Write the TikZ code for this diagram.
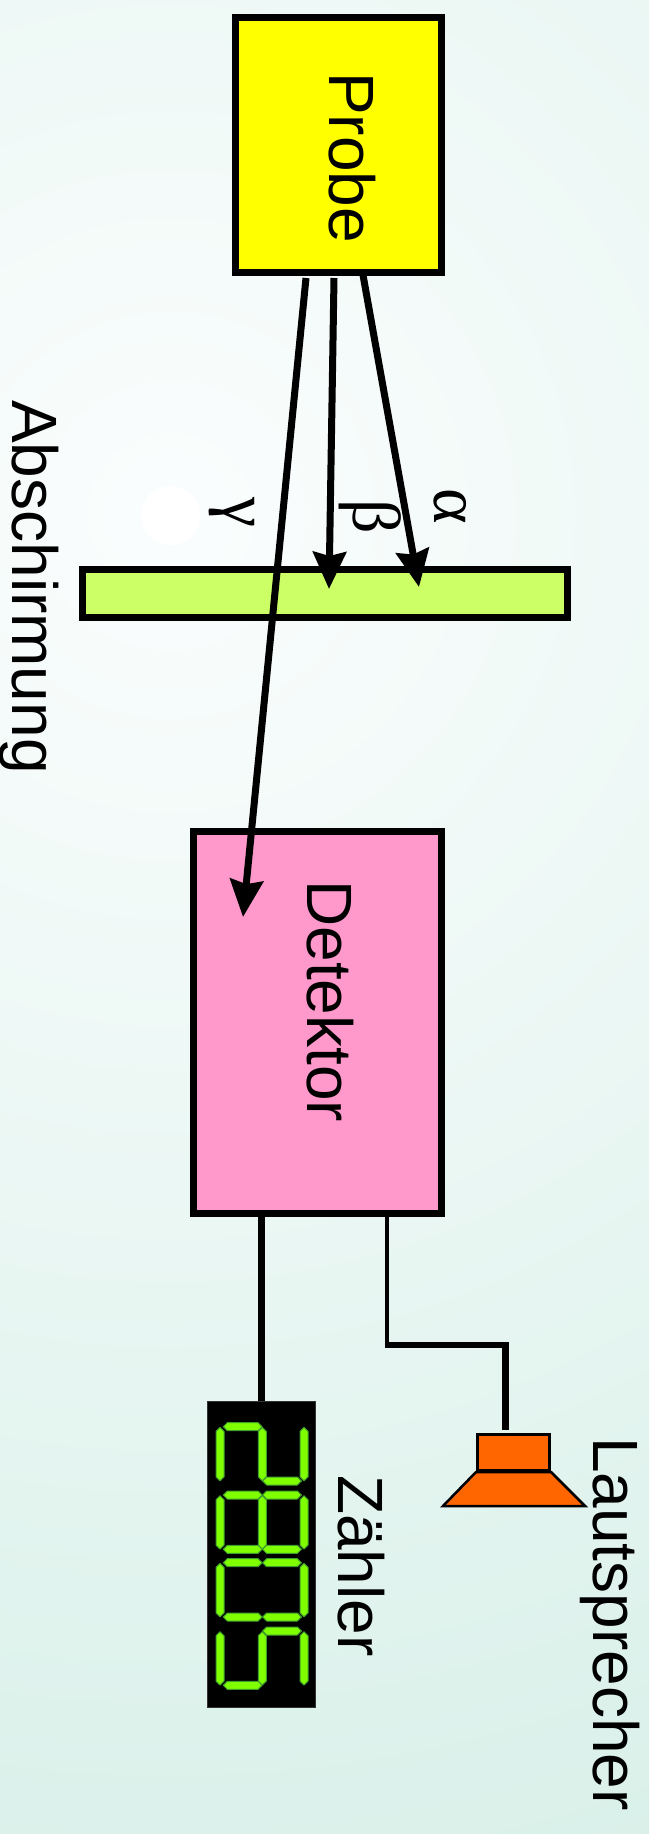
\documentclass[tikz,border=0pt]{standalone}
\usepackage{fontspec}
\usepackage{xcolor}
\usepackage{tikz}
\usetikzlibrary{arrows.meta,calc}
\setmainfont{Liberation Sans}
\newfontfamily\greekfont{Liberation Serif}
\definecolor{probefill}{HTML}{FFFF00}
\definecolor{shieldfill}{HTML}{CCFF66}
\definecolor{detfill}{HTML}{FF99CC}
\definecolor{spkfill}{HTML}{FF6600}
\definecolor{seggreen}{HTML}{80FF00}
\definecolor{segedge}{HTML}{3E9E2E}
\definecolor{bgmid}{HTML}{FAFDFD}
\definecolor{bgout}{HTML}{D9F0E9}
\pgfdeclareradialshading{bgshade}{\pgfpoint{0bp}{0bp}}{
  color(0bp)=(white); color(0.51bp)=(white); color(0.52bp)=(bgmid); color(25bp)=(bgout); color(50bp)=(bgout)}
\tikzset{
  box/.style={draw=black, line width=7pt, inner sep=0pt, outer sep=0pt},
  ray/.style={draw=black, line width=7pt, -{Stealth[length=37pt,width=33pt,inset=4pt]}},
  lab/.style={text=black, font=\fontsize{64}{70}\selectfont, rotate=-90, anchor=base west, inner sep=0pt},
  labg/.style={text=black, font=\greekfont\fontsize{68}{76}\selectfont, rotate=-90, anchor=base west, inner sep=0pt},
  seg/.style={fill=seggreen, draw=segedge, line width=1pt, line join=round},
}
\newcommand{\segv}[2]{\draw[seg] (#1,#2) ++(0,0.7) -- ++(4,4) -- ++(0,45.4) -- ++(-4,4) -- ++(-4,-4) -- ++(0,-45.4) -- cycle;}
\newcommand{\segh}[2]{\draw[seg] (#1,#2) -- ++(4,-4) -- ++(30.8,0) -- ++(4,4) -- ++(-4,4) -- ++(-30.8,0) -- cycle;}

\begin{document}
\begin{tikzpicture}[x=1pt,y=-1pt]
  \useasboundingbox (0,0) rectangle (649,1834);
  \begin{scope}
    \clip (0,0) rectangle (649,1834);
    \shade[shading=bgshade] (170,515) circle (1420pt);
  \end{scope}
  % boxes
  \node[box,fill=probefill,minimum width=206pt,minimum height=255pt] (probe) at (338.5,144.5) {};
  \node[box,fill=shieldfill,minimum width=485pt,minimum height=48pt] (shield) at (324.5,593) {};
  \node[box,fill=detfill,minimum width=248pt,minimum height=382pt] (detektor) at (317,1022) {};
  \node[draw=black!80,fill=black,line width=1pt,inner sep=0pt,minimum width=108pt,minimum height=306pt] (counter) at (261.5,1554.5) {};
  \node[draw=black,fill=spkfill,line width=3pt,inner sep=0pt,minimum width=72pt,minimum height=36pt] (speaker) at (513.5,1452.5) {};
  \draw[fill=spkfill,draw=black,line width=2.5pt,line join=miter] (speaker.south west) -- (443,1506) -- (585,1506) -- (speaker.south east) -- cycle;
  % rays
  \coordinate (gammaout) at (306,278);
  \coordinate (gammain) at (243,917);
  \coordinate (betaout) at (334,278);
  \coordinate (betain) at (329,589);
  \coordinate (alphaout) at (363,275);
  \coordinate (alphain) at (419,587);
  \draw[ray] (gammaout) -- (gammain);
  \draw[ray] (betaout) -- (betain);
  \draw[ray] (alphaout) -- (alphain);
  % wires
  \coordinate (wiretop) at (387,1216);
  \coordinate (wirecorner) at (387,1345);
  \coordinate (wirebend) at (505,1345);
  \coordinate (wireend) at (505,1430);
  \draw[line width=7pt] (counter.north |- detektor.south) -- (counter.north);
  \draw[line width=4pt] (wiretop) -- (wirecorner);
  \draw[line width=5.5pt] ($(wirecorner)+(-2,0)$) -- ($(wirebend)+(3.5,0)$);
  \draw[line width=7pt] (wirebend) -- (wireend);
  % display
  \foreach \Y/\V/\H in {
    1426.7/{220,262.3,304}/{223.3/0,262.6/54.3},
    1495/{220,262.3,304}/{223.3/0,262.6/0,223.3/54.3,262.6/54.3},
    1562.7/{220,304}/{223.3/0,262.6/0,223.3/54.3,262.6/54.3},
    1631/{220,262.3,304}/{262.6/0,223.3/54.3}}{
    \foreach \X in \V {\segv{\X}{\Y}}
    \foreach \A/\B in \H {\pgfmathsetmacro{\C}{\Y+\B}\segh{\A}{\C}}
  }
  % labels
  \node[lab] (probelab) at (329.3,72) {Probe};
  \node[lab] (detlab) at (307.3,880) {Detektor};
  \node[lab] (shieldlab) at (12.7,400) {Abschirmung};
  \node[lab] (counterlab) at (338,1475) {Zähler};
  \node[lab] (speakerlab) at (593.3,1437) {Lautsprecher};
  \node[labg] (gammalab) at (223,497) {γ};
  \node[labg] (betalab) at (353,499) {β};
  \node[labg] (alphalab) at (434,488) {α};
\end{tikzpicture}
\end{document}
